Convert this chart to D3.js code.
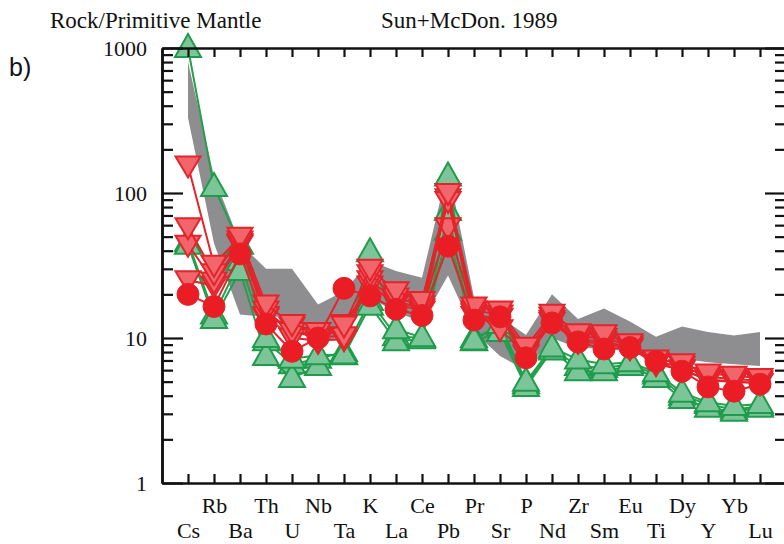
<!DOCTYPE html>
<html>
<head>
<meta charset="utf-8">
<script src="https://cdn.jsdelivr.net/npm/d3@7"></script>
<style>
  body { margin: 0; background: #fff; }
  svg text { font-family: "Liberation Serif", "Times New Roman", serif; fill: #111; }
</style>
</head>
<body>
<div id="chart"></div>
<script>
// Elements, Rock/Primitive Mantle (Sun & McDonough 1989)
const elements = ['Cs','Rb','Ba','Th','U','Nb','Ta','K','La','Ce','Pb','Pr','Sr','P','Nd','Zr','Sm','Eu','Ti','Dy','Y','Yb','Lu'];

// grey envelope
const bandUpper = [800,130,45,30,30,17,21,34,29,26,150,19,14,10.5,20,13.5,16,13,10.2,12,11,10.4,11];
const bandLower = [330,45,14.5,14,14,9,10.5,19,15,13,27,11,7.5,6,10,8.5,8.5,8,7.5,7.2,6.8,6.6,6.4];

// green triangles
const green1 = [1000,110,44,10,7.2,7.6,7.7,39,11.5,10.1,130,9.6,12.5,5.0,8.6,7.1,6.6,6.8,5.8,4.2,3.6,3.4,3.5];
const green2 = [44,13.5,29,7.5,5.3,6.4,7.6,16.7,9.5,9.8,75,9.5,11,4.6,8.2,5.9,5.9,6.4,5.3,3.8,3.3,3.1,3.3];
const green3 = [46,14.5,34,9.5,6.6,7.2,8,18,10.3,10,55,10,12,4.8,8.4,6.4,6.2,6.6,5.6,4.0,3.5,3.2,3.4];

// red inverted triangles
const red1 = [155,32,50,17,12.5,11,12.2,30,21,18,100,16.5,15.5,8.7,14.7,10.8,10.6,9.2,7.1,6.7,5.7,5.5,5.3];
const red2 = [58,28,47,15.5,11,10.2,10.3,27.5,19,16.8,88,15.5,14.5,8.2,14,10.2,10,8.9,6.8,6.4,5.4,5.2,5.1];
const red3 = [44,24.5,45,14.2,10,9.6,9.8,25,18,16,58,14.8,11.5,7.7,13.3,9.7,9.5,8.6,6.6,6.1,5.1,5.0,4.9];
const red4 = [25,23,44,13.8,12,9.4,12.5,23,17.2,15.4,92,14.2,13.8,8.0,12.9,9.4,9.2,8.5,6.7,6.0,5.2,5.0,4.9];

// red circles
const circle1 = [20,16.5,38,12.5,8.1,10,22,19.5,15.8,14.3,43,13.3,14,7.3,12.7,9.4,8.4,8.6,6.9,5.9,4.6,4.3,4.8];

const yMajor = [1, 10, 100, 1000];
const yMinor = [2,3,4,5,6,7,8,9,20,30,40,50,60,70,80,90,200,300,400,500,600,700,800,900];

const width = 784, height = 544;
const plotLeft = 162, plotRight = 786, plotTop = 48, plotBottom = 483;

const svg = d3.select('#chart').append('svg')
  .attr('width', width)
  .attr('height', height);

const x = d3.scaleLinear().domain([0, 24]).range([plotLeft, plotRight]);
const y = d3.scaleLog().domain([1, 1000]).range([plotBottom, plotTop]);
const xi = i => x(i + 1);

// envelope
const area = d3.area()
  .x((d, i) => xi(i))
  .y0(d => y(d[0]))
  .y1(d => y(d[1]));
svg.append('path')
  .datum(bandLower.map((v, i) => [v, bandUpper[i]]))
  .attr('d', area)
  .attr('fill', '#8e8e91');

const line = d3.line().x((d, i) => xi(i)).y(d => y(d));

const triUp = 'M0,-14L13,9L-13,9Z';
const triDown = 'M0,12L12.5,-9L-12.5,-9Z';

function drawSeries(vals, kind) {
  const g = svg.append('g');
  const lineColor = kind === 'up' ? '#23a04c' : '#e4232a';
  g.append('path')
    .attr('d', line(vals))
    .attr('fill', 'none')
    .attr('stroke', lineColor)
    .attr('stroke-width', 2);
  if (kind === 'circle') {
    g.selectAll('circle').data(vals).enter().append('circle')
      .attr('cx', (d, i) => xi(i))
      .attr('cy', d => y(d))
      .attr('r', 11)
      .attr('fill', '#ea1d25')
      .attr('stroke', '#e4232a')
      .attr('stroke-width', 1);
  } else {
    g.selectAll('path.m').data(vals).enter().append('path')
      .attr('class', 'm')
      .attr('transform', (d, i) => `translate(${xi(i)},${y(d)})`)
      .attr('d', kind === 'up' ? triUp : triDown)
      .attr('fill', kind === 'up' ? '#7cc598' : '#f0666b')
      .attr('stroke', kind === 'up' ? '#1f9c4b' : '#e3242b')
      .attr('stroke-width', 2)
      .attr('stroke-linejoin', 'miter');
  }
}

[green3, green2, green1].forEach(s => drawSeries(s, 'up'));
[red4, red3, red2, red1].forEach(s => drawSeries(s, 'down'));
drawSeries(circle1, 'circle');

// axes
function styleAxis(g) {
  g.selectAll('path.domain').attr('stroke', '#111').attr('stroke-width', 2.5);
  g.selectAll('.tick line').attr('stroke', '#111').attr('stroke-width', 2.2);
  g.selectAll('.tick text').attr('font-size', 22).attr('fill', '#111')
    .attr('font-family', '"Liberation Serif", "Times New Roman", serif');
}

const xb = svg.append('g')
  .attr('transform', `translate(0,${plotBottom})`)
  .call(d3.axisBottom(x).tickValues(d3.range(1, 24)).tickSize(-9).tickSizeOuter(0)
    .tickFormat(i => elements[i - 1]))
  .call(styleAxis);
xb.selectAll('.tick text').attr('y', i => (i % 2 === 0 ? 14 : 39));

svg.append('g')
  .attr('transform', `translate(0,${plotTop})`)
  .call(d3.axisTop(x).tickValues(d3.range(1, 24)).tickSize(-9).tickSizeOuter(0).tickFormat(''))
  .call(styleAxis);

svg.append('g')
  .attr('transform', `translate(${plotLeft},0)`)
  .call(d3.axisLeft(y).tickValues(yMajor).tickSize(-21).tickSizeOuter(0).tickPadding(15)
    .tickFormat(d3.format('d')))
  .call(styleAxis);
svg.append('g')
  .attr('transform', `translate(${plotLeft},0)`)
  .call(d3.axisLeft(y).tickValues(yMinor).tickSize(-11).tickSizeOuter(0).tickFormat(''))
  .call(styleAxis);

svg.append('g')
  .attr('transform', `translate(${plotRight},0)`)
  .call(d3.axisRight(y).tickValues(yMajor).tickSize(-21).tickSizeOuter(0).tickFormat(''))
  .call(styleAxis);
svg.append('g')
  .attr('transform', `translate(${plotRight},0)`)
  .call(d3.axisRight(y).tickValues(yMinor).tickSize(-11).tickSizeOuter(0).tickFormat(''))
  .call(styleAxis);

// titles
svg.append('text').attr('x', 50).attr('y', 28).attr('font-size', 23)
  .text('Rock/Primitive Mantle');
svg.append('text').attr('x', 381).attr('y', 28).attr('font-size', 23)
  .text('Sun+McDon. 1989');
svg.append('text').attr('x', 9).attr('y', 76).attr('font-size', 25)
  .style('font-family', '"Liberation Sans", Arial, sans-serif')
  .text('b)');
</script>
</body>
</html>
